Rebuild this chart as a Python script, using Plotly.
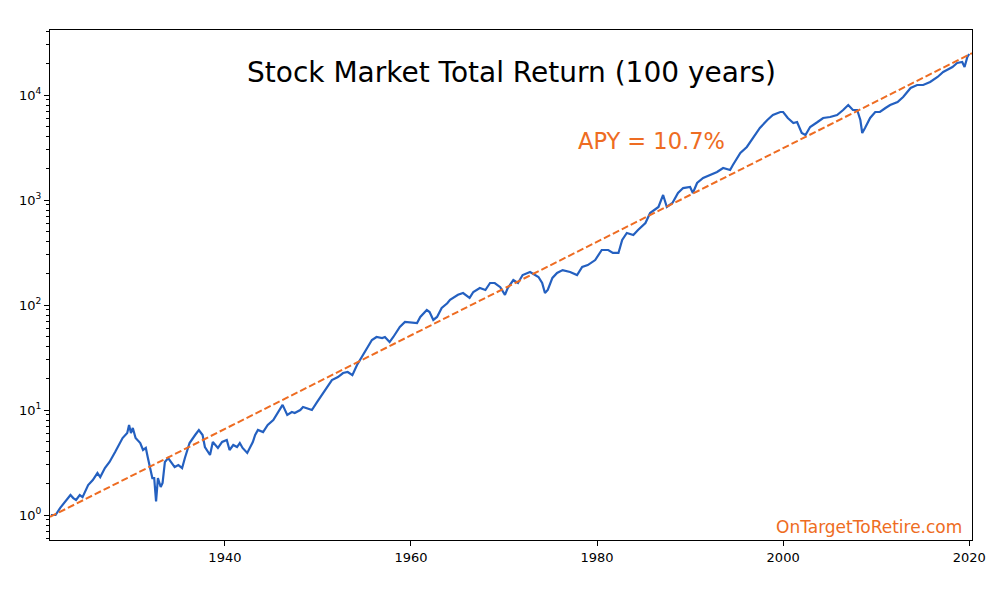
import plotly.graph_objects as go

# total return index (1921 = 1.0)
years = [
    1921.3, 1921.8, 1922.3, 1922.8, 1923.4, 1923.7, 1924.0, 1924.4, 1924.7, 1925.3,
    1925.8, 1926.3, 1926.6, 1927.1, 1927.6, 1928.2, 1928.5, 1929.0, 1929.5, 1929.7,
    1929.9, 1930.1, 1930.4, 1930.9, 1931.2, 1931.5, 1931.7, 1932.2, 1932.4, 1932.6,
    1932.8, 1933.1, 1933.3, 1933.55, 1933.9, 1934.3, 1934.6, 1935.0, 1935.4, 1935.7,
    1936.2, 1936.8, 1937.2, 1937.6, 1937.85, 1938.4, 1938.7, 1939.25, 1939.7, 1940.2,
    1940.5, 1940.9, 1941.3, 1941.6, 1941.9, 1942.4, 1942.7, 1943.0, 1943.25, 1943.55,
    1944.1, 1944.6, 1945.2, 1945.7, 1946.2, 1946.7, 1947.2, 1947.5, 1948.1, 1948.4,
    1948.8, 1949.35, 1949.9, 1950.4, 1950.97, 1951.5, 1952.15, 1952.7, 1953.2, 1953.7,
    1954.2, 1954.7, 1955.3, 1955.8, 1956.3, 1956.9, 1957.2, 1957.7, 1958.1, 1958.8,
    1959.35, 1960.1, 1960.65, 1961.0, 1961.7, 1962.0, 1962.4, 1962.8, 1963.3, 1963.9,
    1964.2, 1965.05, 1965.6, 1966.3, 1966.7, 1967.4, 1968.0, 1968.5, 1969.0, 1969.6,
    1970.1, 1970.4, 1971.0, 1971.5, 1972.0, 1972.8, 1973.3, 1973.7, 1974.1, 1974.4,
    1974.7, 1975.2, 1975.7, 1976.3, 1977.1, 1977.85, 1978.4, 1979.0, 1979.8, 1980.5,
    1981.2, 1981.7, 1982.3, 1982.7, 1983.2, 1983.9, 1984.4, 1985.2, 1985.7, 1986.6,
    1987.1, 1987.5, 1988.1, 1988.7, 1989.25, 1990.0, 1990.3, 1990.75, 1991.4, 1992.15,
    1992.9, 1993.55, 1994.3, 1994.6, 1995.4, 1996.1, 1996.8, 1997.5, 1998.3, 1998.9,
    1999.7, 2000.0, 2000.5, 2001.1, 2001.5, 2002.0, 2002.4, 2002.9, 2003.7, 2004.3,
    2005.05, 2005.8, 2006.45, 2007.0, 2007.5, 2007.96, 2008.3, 2008.5, 2008.8, 2009.35,
    2009.9, 2010.4, 2011.0, 2011.5, 2012.3, 2012.9, 2013.7, 2014.4, 2015.05, 2015.8,
    2016.6, 2017.2, 2017.6, 2018.2, 2018.7, 2019.25, 2019.5, 2019.8, 2020.0,
]
total_return = [
    1.00, 1.00, 1.17, 1.33, 1.55, 1.45, 1.39, 1.55, 1.48, 1.93,
    2.15, 2.51, 2.30, 2.80, 3.20, 3.98, 4.44, 5.41, 6.04, 7.20,
    6.04, 6.74, 5.41, 4.85, 4.16, 4.35, 3.57, 2.25, 2.25, 1.35,
    2.25, 1.85, 2.02, 3.20, 3.49, 3.13, 2.86, 2.99, 2.80, 3.49,
    4.85, 5.78, 6.45, 5.78, 4.44, 3.73, 4.96, 4.35, 4.96, 5.18,
    4.16, 4.64, 4.44, 4.85, 4.35, 3.90, 4.35, 4.96, 5.78, 6.45,
    6.17, 7.20, 8.03, 9.57, 11.2, 8.96, 9.57, 9.36, 10.0, 10.7,
    10.4, 10.0, 11.9, 13.9, 16.6, 19.3, 20.6, 22.5, 23.0, 21.5,
    26.8, 32.0, 39.8, 46.4, 49.6, 48.5, 49.6, 44.4, 49.6, 61.7,
    68.9, 67.4, 67.4, 76.9, 89.6, 85.8, 72.0, 76.9, 93.6, 104,
    112, 125, 130, 117, 133, 145, 139, 162, 162, 148,
    125, 145, 173, 162, 193, 206, 193, 185, 162, 130,
    139, 181, 202, 215, 206, 193, 230, 240, 268, 334,
    334, 313, 313, 416, 485, 464, 518, 604, 752, 858,
    1117, 858, 936, 1167, 1300, 1330, 1167, 1452, 1622, 1731,
    1849, 2018, 1931, 2154, 2804, 3199, 3981, 4850, 5781, 6452,
    6887, 6887, 6040, 5412, 5534, 4346, 4160, 4957, 5534, 6040,
    6173, 6452, 7197, 8035, 7197, 7197, 5781, 4346, 4850, 6040,
    6887, 6887, 7519, 8035, 8577, 9575, 11670, 12450, 12450, 13300,
    14840, 16560, 17300, 18490, 20180, 20620, 18490, 23010, 24560,
]

# 10.7% APY trend line end points
trend_years = [1921.2, 2020.3]
trend_values = [0.96, 25000]

y_ticks = [1, 10, 100, 1000, 10000]
y_tick_text = ["10<sup>0</sup>", "10<sup>1</sup>", "10<sup>2</sup>", "10<sup>3</sup>", "10<sup>4</sup>"]
x_ticks = [1940, 1960, 1980, 2000, 2020]

BLUE = "#2460c0"
ORANGE = "#ee6c22"

fig = go.Figure()
fig.add_trace(go.Scatter(x=years, y=total_return, mode="lines",
                         line=dict(color=BLUE, width=2.2)))
fig.add_trace(go.Scatter(x=trend_years, y=trend_values, mode="lines",
                         line=dict(color=ORANGE, width=2, dash="7px,3px")))

fig.add_annotation(text="Stock Market Total Return (100 years)", xref="paper", yref="paper",
                   x=0.5, y=0.916, xanchor="center", yanchor="middle", showarrow=False,
                   font=dict(size=28, color="black"))
fig.add_annotation(text="APY = 10.7%", xref="paper", yref="paper", x=0.5705, y=0.782,
                   xanchor="left", yanchor="middle", showarrow=False,
                   font=dict(size=22.5, color=ORANGE))
fig.add_annotation(text="OnTargetToRetire.com", xref="paper", yref="paper", x=0.991, y=0.026,
                   xanchor="right", yanchor="middle", showarrow=False,
                   font=dict(size=17, color=ORANGE))

minor_vals = [m * 10 ** k for k in range(-1, 5) for m in range(2, 10)]

# page body keeps an 8px margin, so the figure is 8px smaller each way
fig.update_layout(
    width=992, height=592, showlegend=False,
    margin=dict(l=42, r=28, t=22, b=60),
    paper_bgcolor="white", plot_bgcolor="white",
    font=dict(family="DejaVu Sans", size=13, color="black"),
    xaxis=dict(range=[1921.2, 2020.3], tickvals=x_ticks, showgrid=False, zeroline=False,
               showline=True, linecolor="black", linewidth=1, mirror=True,
               ticks="outside", ticklen=5, tickcolor="black"),
    yaxis=dict(type="log", range=[-0.238, 4.619], tickvals=y_ticks, ticktext=y_tick_text,
               showgrid=False, zeroline=False, showline=True, linecolor="black",
               linewidth=1, mirror=True, ticks="outside", ticklen=5, tickcolor="black",
               minor=dict(tickvals=minor_vals, ticks="outside", ticklen=3,
                          tickcolor="black", showgrid=False)),
)

fig.write_html("out.html")
